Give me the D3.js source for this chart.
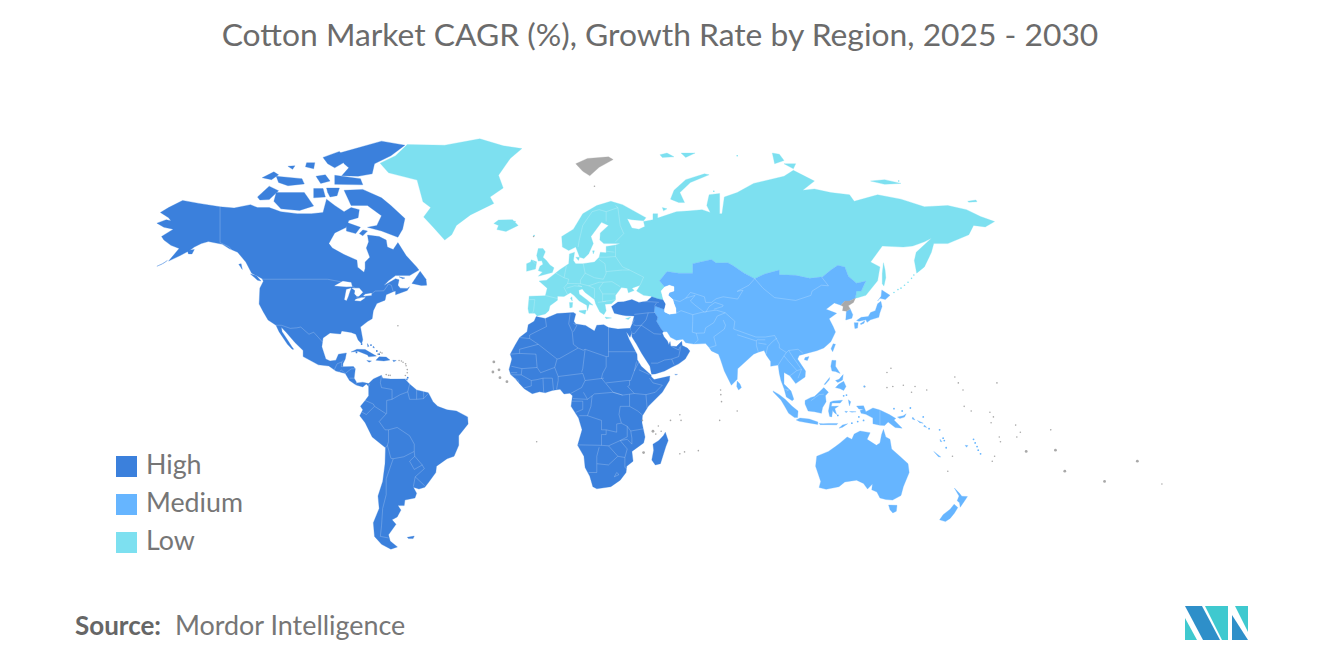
<!DOCTYPE html>
<html>
<head>
<meta charset="utf-8">
<script src="https://d3js.org/d3.v7.min.js"></script>
<style>
    body { margin: 0; background: #fff; }
    svg { display: block; }
    text { font-family: Lato, "Open Sans", sans-serif; }
    .border { fill: none; stroke: #fff; stroke-opacity: 0.3; stroke-width: 0.7px; }
</style>
</head>
<body>
<svg width="1320" height="665"></svg>

<script>
    const legendLabels = ['High', 'Medium', 'Low'];
    const legendColors = ['#3b80dc', '#66b5ff', '#7de0f0'];
    const noDataColor = '#a9a9a9';

    // outlines are [lon, lat]; lon runs past 180 because the map is cut at about -170
    const highLands = [
        // north america
        [[-168,65.6],[-164,66.5],[-162,66.2],[-163,67],[-166.5,68.3],[-163,69.5],[-157,71.2],[-150,70.5],[-141,69.7],[-135,69.4],[-128,70.2],[-125,69.5],[-120,69.5],[-115,68.5],[-108,68],[-102,68],[-97,68.3],[-95.5,71.5],[-92,70],[-88,68.5],[-85,69.5],[-81.5,69],[-82,67],[-86,66.3],[-87,64.5],[-92,63],[-94.5,60],[-93,58.7],[-88,56.8],[-82.5,55.1],[-82.2,52.9],[-79.5,51.3],[-79,52.5],[-79,54.5],[-77,56],[-78.5,58.7],[-77.5,60.5],[-78,62.4],[-73,62],[-70,61],[-69.5,59],[-67,58.3],[-65,60.3],[-61.5,56.5],[-57,53],[-56,52],[-60,50.2],[-66,50.2],[-69,48.5],[-71,46.9],[-66,49.2],[-64.5,48.8],[-65,47],[-64,46],[-61,45.9],[-60,46.5],[-61,45.2],[-66,43.7],[-66,45],[-67,44.8],[-70,43.7],[-70.5,41.8],[-74,40.6],[-75.5,38],[-76,35],[-78,33.9],[-81,31.8],[-80,26.8],[-80.5,25.2],[-82,26.7],[-83,29],[-85,29.7],[-89,30.3],[-89.5,29.1],[-94,29.5],[-97,27.5],[-97.5,24],[-95.8,19],[-94,18.2],[-91.5,18.5],[-90.4,21],[-87,21.5],[-87.5,19],[-88.5,17],[-88.5,15.8],[-84,15.9],[-83.2,15],[-83.7,11],[-82.5,9],[-80,9.3],[-77.5,8.7],[-77.5,7.5],[-78.5,8.5],[-80,7.3],[-82.9,8.1],[-85.7,10],[-87.5,13],[-91.5,14],[-94.5,16.1],[-99,16.6],[-105.5,20],[-105.5,22.5],[-109,25.7],[-112.5,29.5],[-114.8,31.7],[-114.5,30],[-112,26.5],[-110.3,24],[-109.5,23],[-110.2,23],[-112.2,25],[-114,27.5],[-115.8,30],[-117.1,32.5],[-120.5,34.5],[-122.5,37.5],[-124.3,40.4],[-124,46],[-122.5,48.3],[-123,49.2],[-127.5,51],[-130,54.5],[-133.5,57.5],[-137,58.5],[-140,59.8],[-146,60.6],[-149,60],[-152,59],[-154,58],[-158,56.5],[-163,54.8],[-158.5,58.6],[-162,59.5],[-165,61],[-166,62],[-161,64],[-165,64.5]],
        [[-125.5,50.2],[-128,50.7],[-125,48.7],[-123.5,48.4]],
        [[-132,54],[-133,53.8],[-131.5,52.2]],
        [[-163.5,55],[-165,54.2],[-168,53.2],[-166,53.8]],
        [[-155,58],[-152,58.3],[-153,57],[-154.5,57]],
        // arctic islands
        [[-62,66.8],[-68,70],[-72,71.8],[-80,73.7],[-88,73.5],[-85,70],[-78,70],[-72,67.5],[-74,65],[-78,64.5],[-72,63.5],[-65,61.8],[-63,64]],
        [[-117,73],[-105,73],[-101,69.9],[-107,68.8],[-115,69.2],[-118,71]],
        [[-125,72],[-120,74.4],[-116,73.4],[-120,71.4],[-124,71.3]],
        [[-117,76.5],[-106,76],[-105,74.9],[-112,74.5],[-116,75.2]],
        [[-123,76.2],[-118,77.4],[-116,76.8],[-119,75.8]],
        [[-104,79.2],[-100.5,79.2],[-101,78],[-104.5,78.4]],
        [[-112,78.5],[-109,78.6],[-110,77.9]],
        [[-101,73.9],[-97,73.9],[-96,72],[-101,71.8]],
        [[-95.5,74],[-90,74],[-91,72.3],[-94,72],[-95,73]],
        [[-92,76.7],[-81,76],[-80,74.7],[-92,74.8]],
        [[-90,81],[-72,83.1],[-62,82.4],[-68,80.5],[-75,79],[-76,77],[-82,76.5],[-89,76.6],[-86,78.2],[-88,79]],
        [[-97,80.2],[-90,81.3],[-87,79.5],[-92,78.2],[-95,79]],
        [[-100,76.5],[-96,76.8],[-94,75.5],[-98,75]],
        [[-87,65.8],[-81,64.5],[-83,62.8],[-87,63.5]],
        [[-80,63.8],[-78,63.5],[-80,62.2],[-81.5,62.8]],
        [[-59,47.6],[-55.5,51.6],[-53,49],[-52.7,47],[-55,46.9]],
        [[-64.5,49.8],[-62,49.4],[-63,49.2]],
        // caribbean
        [[-85,21.9],[-82.5,23],[-79,22.9],[-74.2,20.2],[-77.5,19.9],[-78,20.7],[-82,22.2]],
        [[-74.4,18.5],[-73,19.9],[-70,19.8],[-68.4,18.6],[-71,18.2]],
        [[-78.3,18.4],[-76.3,18.2],[-77.3,17.7]],
        [[-67.2,18.5],[-65.7,18.4],[-66.8,17.9]],
        [[-78,25.3],[-77.4,24.2],[-77.9,24]],
        [[-75.5,24.3],[-75,23.5],[-75.7,23.7]],
        // south america
        [[-77.5,8.7],[-75.5,10.7],[-72,12.2],[-71.5,11],[-68,10.6],[-62,10.7],[-60,8.5],[-57,6],[-52,4.8],[-50,1],[-48,-1],[-44,-2.5],[-40,-3],[-35.2,-5.5],[-35,-8.5],[-39,-13.5],[-39,-17.5],[-41,-22],[-44,-23],[-48.5,-26],[-48.8,-28.5],[-52,-32.5],[-53.5,-34.2],[-56,-34.9],[-58.4,-34.2],[-57,-36.5],[-57.7,-38.2],[-62,-39],[-62.3,-41],[-65,-41],[-63.7,-42.6],[-65.3,-45],[-67.5,-46],[-65.8,-47.5],[-69,-51],[-68.3,-53],[-65.2,-54.8],[-68,-55.5],[-72,-54],[-75,-51.5],[-75.5,-47],[-73,-42],[-73.5,-37.5],[-71.5,-32],[-70.5,-25],[-70.3,-18.5],[-76,-14],[-79,-8],[-81.3,-5],[-80,-2.5],[-81,-1],[-79,1.5],[-77.5,3.5],[-77.5,7]],
        [[-61,-51.8],[-58,-51.4],[-58.5,-52.2],[-60.5,-52.2]],
        [[-61.7,10.7],[-60.9,10.8],[-61,10.1]],
        // africa
        [[-5.9,35.8],[-2,35.1],[3,36.9],[10,37.3],[11,36.8],[10.2,34],[11,33],[15.2,32.4],[19,30.3],[20,32.5],[23,32.7],[25,31.6],[29,31],[32.3,31.2],[34.3,31.3],[34.9,29.5],[34.2,27.8],[33,29.5],[32.6,29.9],[33.8,27],[35.5,24],[37.2,21],[37.3,18.7],[39,16],[43.2,12.3],[43.3,11.6],[44.5,10.4],[51.2,11.9],[51,10],[48,5],[42,-1],[39.5,-5],[39.3,-8],[40.6,-14],[40,-16.5],[35,-20],[35.5,-24],[32.8,-26],[32.5,-28.5],[30,-31.5],[26,-34],[20,-34.8],[18.3,-34],[17,-30],[15,-26.5],[14.5,-22],[11.8,-17.5],[13.7,-11],[12.2,-6],[9,-1],[9.6,3.5],[8.5,4.6],[6,4.3],[4.3,6.3],[1,5.8],[-2,4.8],[-4.5,5.2],[-7.6,4.4],[-11,6.5],[-13.3,9],[-15,11],[-16.8,12.5],[-17.5,14.7],[-16.3,19],[-17,21],[-15,24.5],[-13,27.7],[-9.8,30],[-9.3,32.7],[-6.8,34]],
        [[49.3,-12],[50.5,-15.5],[49.5,-18],[47.2,-25],[45,-25.5],[43.5,-23.5],[44.3,-19.5],[44,-17],[46.5,-15.5],[48.5,-13.4]],
        // turkey, caucasus, arabia
        [[26.3,39.5],[29,41.1],[31.5,41.2],[35,42],[38,41],[41.5,41.5],[43.5,43],[46,42.3],[48.5,41.9],[49.5,40.4],[48.9,38.4],[44.8,39.7],[44.5,37.5],[46,35.5],[45.5,34],[47.5,31],[48.5,30],[48,29.5],[48.7,28],[50.2,26.3],[50.8,24.8],[51.3,26.1],[51.6,24.3],[54,24.1],[56.3,26.2],[56.5,24.5],[58.7,23.5],[59.8,22.3],[57.8,19],[55,17],[52,15.6],[49,14],[45,12.8],[43.4,12.7],[42.7,16],[39.2,21.3],[37,25],[35,28],[34.9,29.5],[34.3,31.3],[35,32.8],[36,36],[32.5,36.1],[30.5,36.4],[27.5,37]],
        [[53.3,12.6],[54.5,12.6],[53.8,12.3]]
    ];

    const mediumLands = [
        // central, south and east asia
        [[49,46.4],[51,47],[53,46.5],[53,45],[51,44.5],[50.5,43.5],[52.5,42],[53,40.5],[53.8,38.8],[53.9,37],[51,36.7],[49,37.5],[48.9,38.4],[44.8,39.7],[44.5,37.5],[46,35.5],[45.5,34],[47.5,31],[48.5,30],[50,30],[51.5,27.8],[54,26.6],[56.8,27],[58,25.6],[61.5,25.1],[66.5,25.3],[68,23.7],[69,22.3],[72,21],[72.8,19],[74.5,14],[77.5,8],[80,10.5],[80.2,15],[82.3,16.8],[87,21],[89,21.8],[91.5,22.5],[92.5,20.5],[94.3,18],[94.3,16],[97.5,16.5],[98,13],[98.7,10],[100,6.6],[101,3],[103.5,1.4],[104.2,2],[103,5.5],[100,8.5],[100,13.4],[102.5,12],[105,8.7],[109,11.5],[109.2,14],[105.8,19],[106.5,20.5],[110,21.4],[114,22.4],[117,23.5],[120,26],[122,29.9],[121,32],[119.3,35],[122.5,37],[118,38.5],[121.5,40.8],[124.3,40],[126,41.5],[128,41.5],[130.5,42.5],[131,45],[133,45],[135,48.4],[131,47.7],[127.5,50],[126,53],[123,53.5],[120,52],[116.5,49.8],[111,49.3],[105,50.3],[98,50.5],[98,52],[92,50.8],[87.5,49.2],[83,51],[78,53.5],[76,54.3],[71,54.2],[69,55.3],[61,54],[61,51],[55,51],[50,51.5],[46.8,48.5]],
        [[126.7,37.8],[128.3,38.6],[129.4,36.5],[129,35.2],[126.4,34.5],[126.6,37]],
        [[141.4,41.4],[141.9,39.5],[140.9,37],[140.5,35.5],[137,34.6],[135.5,33.6],[135,34.6],[132,34],[131,34.3],[133,35.5],[136,35.8],[137,37.3],[139,38],[140,40.5]],
        [[140,41.5],[141.5,43.2],[141.8,45.4],[145.3,43.5],[143.3,42],[141,42.5]],
        [[132.5,33],[134.5,34.2],[134.2,33.3],[133,32.8]],
        [[130,33.5],[131.7,33.5],[131.4,31.4],[130.3,31.2]],
        [[121,25.2],[122,25],[120.8,22],[120.1,23.2]],
        [[109,19.6],[110.7,20],[110,18.4],[108.7,18.7]],
        [[80,9.8],[81.2,8.5],[81.8,7],[80.6,6],[79.8,7.5]],
        // philippines and indonesia
        [[120.5,18.5],[122.2,18.4],[122,16],[124,13],[122,13.8],[120.5,14],[120,16]],
        [[122,7],[123.5,8.5],[125.5,9.7],[126.5,7.5],[125.5,5.8],[124,6.5]],
        [[122,10],[123.5,10.5],[125.3,12.5],[125,10.2],[123,9.2]],
        [[117.2,8.4],[119.5,11.3],[119.3,10.2],[117.5,8.2]],
        [[109,1.5],[111.5,2.8],[113,3.2],[115.5,5.5],[117,7],[119,5],[117.7,3.5],[118,1],[116.5,-1.5],[116,-4],[113,-3.3],[110.3,-3],[109,0]],
        [[95.3,5.6],[98,4],[100.5,2],[103.5,-1],[106,-3],[105.8,-5.8],[104.5,-5.8],[102,-4],[100.3,-1],[98.7,1.7],[95.5,5]],
        [[105.2,-6.8],[106.8,-6],[110.8,-6.4],[114.5,-7.7],[114.4,-8.7],[110,-8],[106.5,-7.4]],
        [[119.7,0.8],[121,1.3],[125,1.6],[124,0.4],[120.5,0.4],[120.2,-1],[121.5,-1],[123.3,-0.9],[121.7,-2],[122.5,-4.5],[121.3,-3.5],[120.8,-2.7],[120.4,-5.5],[119.5,-5.3],[119,-3]],
        [[115,-8.3],[116.7,-8.4],[119,-8.3],[123,-8.3],[122.5,-8.9],[118.5,-8.8],[115.5,-8.8]],
        [[123.5,-10.3],[125,-9],[127.2,-8.4],[125,-9.9]],
        [[127.5,1.8],[128.5,1],[128,-0.8],[127.7,0.5]],
        [[128,-3.2],[130.8,-3.3],[129,-3.5]],
        [[126,-3.1],[127.2,-3.2],[126.5,-3.7]],
        [[131,-0.9],[134,-0.8],[135,-3.3],[138,-1.7],[141,-2.6],[145,-4.5],[147.8,-6.2],[147,-6.8],[150.5,-10.3],[147.5,-10],[144.5,-7.7],[143,-9.2],[141,-9.1],[138,-8.4],[138,-6],[135,-4.4],[133,-4],[132.5,-2.8],[134,-2.3],[132,-2.1]],
        [[148.5,-5.6],[151,-5],[152.2,-4.2],[151.5,-5.6],[149.5,-6.2]],
        [[155,-5.6],[156,-6.8],[154.8,-6.4]],
        [[157,-7],[159.5,-8.2],[158,-8]],
        [[160,-9],[161,-10],[159.7,-9.6]],
        [[164,-20],[167,-22.3],[166,-22.2]],
        [[166.7,-15],[167.5,-16],[166.8,-15.9]],
        [[177.4,-17.5],[178.6,-17.6],[178,-18.3]],
        // oceania
        [[114,-22],[113.5,-26],[115.7,-32],[115,-34.3],[118,-35],[123.5,-34],[126,-32.2],[131,-31.5],[134,-32.8],[135.7,-34.9],[137.8,-33],[137.5,-35.2],[139.7,-36],[141,-38.2],[143.5,-38.8],[146.4,-39],[150,-37.3],[151,-34],[153.5,-28.5],[153,-25],[149.5,-22],[146,-19],[145.3,-15],[143.5,-14],[142.5,-10.8],[141.7,-13],[141,-16.5],[139.5,-17.5],[135.5,-15],[136.8,-12.2],[132.5,-11.5],[130,-12.8],[129,-15],[127,-14],[124,-16.5],[122,-18],[119,-20]],
        [[144.7,-40.8],[148.3,-40.9],[148,-43],[146.5,-43.6],[145.3,-42.5]],
        [[172.8,-34.5],[175,-36.5],[176,-37.6],[178.4,-37.7],[177,-39.5],[175.3,-41.6],[175,-40],[174,-39.2],[174.8,-37.5]],
        [[172.7,-40.5],[174.3,-41.7],[172.8,-43.7],[171,-45.5],[169,-46.6],[166.5,-46],[168,-44.2],[171,-42.3]]
    ];

    const lowLands = [
        // europe and russia
        [[-9,37],[-9.4,38.7],[-8.9,43.2],[-2,43.4],[-1.2,46],[-4.7,48.4],[-1.5,48.7],[1.5,50.5],[4,52],[8,54],[8.3,57],[10.5,57.5],[10,55],[11,54],[14,54],[19,54.5],[21,56],[21.5,57.5],[24,57.3],[24,59.2],[28,59.6],[30,60],[23,60],[21.3,61],[21.5,63],[25,65],[22,65.8],[17.5,62],[18.5,60],[16.5,57],[14.5,55.6],[12.7,56],[11,59],[8,58],[5.3,59],[5,62],[10,64],[14,68],[20,70],[26,71],[31,70.2],[41,67],[40,66.2],[35,66.5],[33,66.7],[35,64.3],[38,64],[40.5,64.7],[40,66],[44,66.5],[44,68],[46,68],[46,66.9],[54,68.5],[60,68.7],[65,69],[68.5,68.3],[67,70],[68,72.5],[72.5,72.8],[72.5,68],[73.5,68],[74.5,72],[80,73],[87,75],[100,76.5],[104,77.7],[113,75.5],[108,73.5],[113,73.8],[120,73],[128,72.5],[130,71],[140,72.5],[150,71.5],[160,69.7],[170,70],[178,69],[184,67.3],[190,66],[186,64.6],[181,65],[179,62.5],[170,60],[164,60],[163,57.5],[162,56],[160,53],[156.7,51],[155.7,55],[156.5,57.5],[163,61.5],[160,60.5],[155,59.3],[151,59],[142,59.3],[137,54.5],[141,53],[140,48.5],[135,43.5],[131.5,42.7],[130.5,42.5],[131,45],[133,45],[135,48.4],[131,47.7],[127.5,50],[126,53],[123,53.5],[120,52],[116.5,49.8],[111,49.3],[105,50.3],[98,50.5],[98,52],[92,50.8],[87.5,49.2],[83,51],[78,53.5],[76,54.3],[71,54.2],[69,55.3],[61,54],[61,51],[55,51],[50,51.5],[46.8,48.5],[49,46.4],[47.5,45],[48.5,41.9],[46,42.3],[43,43.2],[40,43.5],[37,45],[38.5,47],[35,46],[36,45.2],[33.5,44.4],[33,46],[30.5,46.2],[28,43.5],[28,41.9],[26.3,40.5],[23.5,40.3],[24,38],[23,36.5],[21.3,37.5],[19.5,40.5],[19,42],[15,44.5],[13.8,45.7],[12.3,45.3],[12.5,44],[16,41.8],[18.4,40],[16.8,40.3],[16,38],[15.7,40],[12.5,41.5],[10.2,43.5],[8.7,44.4],[6,43.1],[3.2,43.2],[3.2,41.8],[0,39.8],[-0.5,38],[-2,36.8],[-5.5,36],[-6.5,37]],
        // greenland
        [[-61,82.5],[-45,82.4],[-30,83.5],[-20,82.3],[-12,81.8],[-17,80],[-22,76.7],[-20,74],[-25.6,72],[-24,70.5],[-34,67.7],[-40,65],[-42,62.5],[-45,61],[-50,64.6],[-54,67.2],[-51,69.5],[-54.3,70.9],[-56.8,75.7],[-69,77.2],[-72.6,79.1],[-66,80.5]],
        [[-24,65.5],[-22,66.4],[-16,66.5],[-13.6,65],[-18.8,63.4],[-22.7,63.9],[-22,65]],
        [[-5,58.6],[-3,58.6],[-2,57.6],[-3,56],[-1.5,55],[0,53.6],[1.7,52.7],[1,51.2],[-5,50],[-3.2,51.4],[-5,51.8],[-4.3,53.2],[-3,53.8],[-3.5,54.9],[-5,54.8],[-5.7,56.5]],
        [[-8,55.2],[-5.7,54.6],[-6.2,52.3],[-10,51.6],[-10,54],[-8.3,54.5]],
        [[12.5,38],[15.5,38.2],[15,36.7],[12.5,37.6]],
        [[8.3,41],[9.7,41],[9.5,39.2],[8.5,39]],
        [[8.7,42.5],[9.4,43],[9.5,41.5]],
        [[23.5,35.6],[26.3,35.3],[24,35]],
        [[32.3,35],[34.5,35.6],[33.5,34.7]],
        [[11,56],[12.6,56],[12.2,55]],
        [[18.2,57.9],[19,57.9],[18.5,57]],
        [[51.5,71.5],[55,70.7],[57.5,70.7],[55.5,73],[60,75.2],[68,76.8],[66,77],[58,75.8],[53,73.5]],
        [[48,69.5],[50,69.2],[48.5,68.7]],
        [[47,80.7],[50,81],[53,80.3],[48,80.2]],
        [[56,81],[62,81],[58,80.2]],
        [[95,81],[98,80.8],[100,79.6],[96,79]],
        [[100,79],[105,79],[104,78]],
        [[137,75.5],[143,75.8],[150,75],[143,74.8]],
        [[178.5,71],[182,71.3],[182.5,70.9],[179,70.8]],
        [[142.5,54.3],[143.2,52],[143.5,49.5],[142.7,46.7],[142,47.5],[142,51]]
    ];

    const noDataLands = [
        [[124.3,40],[126,41.5],[128,41.5],[130.5,42.5],[129.7,41],[127.5,39.8],[128.3,38.6],[126.7,37.8],[125,38],[125.3,39.5]],
        [[11,79],[16,80],[25,80.3],[27,79.8],[21,78.3],[17,76.6],[14,77.5]]
    ];

    const lakes = [
        [[-92,46.8],[-88.5,48.3],[-85,47.9],[-84.6,46.6],[-87,46.5]],
        [[-87.8,42],[-87,45.5],[-85,46],[-85.5,45],[-86.3,43],[-87,41.7]],
        [[-84.6,46],[-81.5,46],[-80,44.6],[-81.7,43.2],[-82.5,43.2],[-83.5,44],[-83.3,45.2]],
        [[-83.4,41.7],[-81,41.5],[-79,42.7],[-80.5,42.7],[-83,42.1]],
        [[-79.7,43.3],[-76.3,43.5],[-76.3,44.2],[-79,43.9]],
        [[49,46.4],[51,47],[53,46.5],[53,45],[51,44.5],[50.5,43.5],[52.5,42],[53,40.5],[53.8,38.8],[53.9,37],[51,36.7],[49,37.5],[48.9,38.4],[49.5,40.4],[48.5,41.9],[47.5,45]]
    ];

    const borders = [
        // north and central america
        [[-123,49],[-95,49],[-88.5,48],[-84,46.5],[-82.5,45],[-82.5,42.5],[-79,42.8],[-79,43.3],[-76,44.2],[-74.7,45],[-71,45.1],[-69,47.4],[-67.8,47],[-67,44.8]],
        [[-141,69.7],[-141,60.3],[-137,59],[-133,55]],
        [[-117.1,32.5],[-114.8,32.5],[-111,31.3],[-108.2,31.5],[-106.5,31.8],[-103,29],[-101,29.8],[-97.2,25.9]],
        [[-92.2,14.5],[-91,17],[-89,17.8],[-88.3,18.4]],[[-89,17.8],[-89.2,15.9]],[[-89.2,15.9],[-88.5,15.8]],[[-90,13.8],[-89.2,14.4],[-87.7,13.2]],[[-87.5,13],[-85,14.9],[-83.2,15]],[[-85.7,11],[-83.7,11]],[[-83,8.2],[-82.5,9.5]],
        // south america
        [[-77.5,7.5],[-77,8.6]],[[-72,12],[-72.5,9],[-72,7],[-67.5,6.2],[-67.5,2],[-69.8,1.5],[-69.8,-4.2]],[[-67.5,2],[-64,4],[-60.8,5.2],[-60,8.5]],[[-60.8,5.2],[-60,2],[-57,2],[-54,2.3],[-52,4.5]],[[-57,6],[-57,2]],[[-54,6],[-54,2.3]],
        [[-79,1.5],[-75.5,0],[-75,-1],[-78.5,-4.5],[-80.3,-3.5]],[[-75,-1],[-70,-4.2],[-73,-7.5],[-70.5,-11],[-69,-11],[-69,-16],[-69.5,-17.5],[-70.3,-18.5]],
        [[-69,-11],[-65.3,-10],[-60,-13.5],[-58,-17],[-58,-20],[-57.8,-22],[-54.6,-25.5],[-53.7,-27],[-57.6,-30.2],[-53.5,-33.7]],[[-57.6,-30.2],[-58.4,-34]],
        [[-69.5,-17.5],[-68,-22.8],[-67,-23],[-62.5,-22.2],[-58,-20]],[[-57.8,-22],[-60,-24],[-58,-27.3],[-54.6,-25.5]],[[-67,-23],[-70,-31],[-70,-37],[-71.5,-42],[-72,-48],[-72.5,-51.5],[-69,-52]],
        // africa
        [[-2,35.1],[-1.5,32],[-8.7,28.7],[-8.7,27.3],[-13,27.7]],[[-8.7,27.3],[-5,25],[3,19],[4,19.2],[12,23.5],[14.2,22.6],[15,23]],[[8.6,36.9],[8,33],[9.5,30],[10,25],[12,23.5]],[[10,33.2],[11.5,32.5],[10,30]],[[25,31.6],[25,20],[24,20],[24,15.7],[22.5,13],[22,11]],[[25,22],[37,22]],[[24,20],[15,23],[14,15],[13.5,13.5]],
        [[-17,21],[-13,21.3],[-13,23],[-5,25]],[[-13,21.3],[-6,21],[-5.5,15.5],[-12,15],[-16.5,16]],[[-5.5,15.5],[-4,13.3],[2,15.5],[3,19]],[[-12,15],[-12.3,12.4],[-8,10],[-8,7.7],[-11,6.9]],[[-16.8,13.3],[-14,13.3]],[[-16.7,12.4],[-12.3,12.4]],[[-15,11],[-13.5,10],[-13.3,9]],
        [[-8,10],[-5.5,10.4],[-3,11],[-2.7,5]],[[-3,11],[1,11],[1.5,6]],[[2.8,6.3],[3.5,10],[3.5,11.7],[14,13]],[[2,15.5],[3.5,11.7]],[[14,13],[15,10],[13.5,7],[9,4.6]],[[15,10],[23,11]],[[14.3,5],[16,2],[18,3.5],[19,4.3],[27,5],[31,3.8]],[[9.8,2.3],[16,2]],[[9.3,1.2],[14,1.2],[14,-2.3],[11,-3.6]],[[18,3.5],[17.5,-1],[16,-5],[12.5,-5]],[[16,-5],[22,-7],[22,-11],[24,-11],[24,-13],[22,-13],[22,-17.5],[12,-17.3]],
        [[22,11],[27,5]],[[24,9],[33,10],[34.5,10],[36,14],[37,18]],[[27,5],[31,3.8],[34,4.2],[36,4.5],[41,4],[41.5,-1.7]],[[34,4.2],[34,-1],[37.5,-3],[39.5,-4.7]],[[34,-1],[30,-1],[29.5,-4.5],[30.5,-8.2],[28.5,-8.5],[28.5,-12],[24,-11]],[[34,10],[34,8],[33.2,7.5],[36,4.5]],[[36,14],[38,17.8]],[[38,14.5],[42.5,12.5]],[[42.5,11],[44,9],[48,8],[45,5],[41,4]],
        [[30.5,-8.2],[33,-9.5],[34.5,-11.5],[40.4,-10.5]],[[33,-9.5],[33,-14],[30,-15.5],[25,-17.7],[22,-17.5]],[[34.5,-11.5],[35,-14.5],[35,-17],[33,-15],[30,-15.5]],[[30,-15.5],[33,-19],[32,-22.5],[32,-26.5],[32.8,-27]],[[25,-17.7],[29,-22],[32,-22.5]],[[29,-22],[25,-25.5],[20,-25],[20,-22],[21,-18.3]],[[20,-25],[20,-28.5],[16.5,-28.5]],[[27.5,-30.2],[29.5,-29.3],[28.5,-28.5],[27.5,-30.2]],
        // middle east
        [[36,36.6],[42,37.2],[44.8,37.3]],[[42,37.2],[41,34.5],[39,32.5],[37,32.3],[35.6,32.7]],[[39,32.5],[44.5,29.2],[47.5,29]],[[36,29.2],[39,32.5]],[[34.9,29.5],[36,29.2]],[[35.2,33],[36,34.6]],[[43.2,17.3],[46,17.3],[49,18.6],[52,19],[55,20],[56,24.5]],[[52,19],[53,16.7]],[[51.6,24.3],[55,22.7],[55.5,24]],[[40,41.3],[43.5,41.2],[46.5,41]],[[44.7,39.7],[45.5,40.8]],
        // asia
        [[52.5,42],[55.5,41.3],[58,42.5],[60,44.5],[61,44.3],[66,43],[66.5,41],[69,41],[71,42.3],[74,43],[80.2,42.2]],[[58,42.5],[62,43.5],[60,41.5],[62,40],[66,37.4]],[[53.9,37],[56,38],[61,36.5],[61,34],[60.8,29.8],[62.5,29.4],[63.3,26.7],[61.7,25.2]],[[61,36.5],[65,37.4],[71,38.2],[74.9,37.2],[71.5,36],[70,33.5],[66.5,31.5],[66,29.5],[62.5,29.4]],[[66.5,37.3],[68,39.5],[70.5,41],[74,40],[73.7,39.5],[70,38.5]],[[80.2,42.2],[82.5,45.3],[80,44.9],[85,47],[87.5,49.2]],[[74.9,37.2],[79,34],[78.5,31],[81,30.2],[88,27.9],[92,27.9],[96,28.5],[98,25],[98,23.5],[101,21.7],[102,22.5],[106,23],[108,21.5]],[[74,34.5],[75,32.5],[74.5,31],[70,28],[71,24.5],[68.2,23.7]],[[80,28.8],[88,26.4],[89,27]],[[89,26.8],[92,26.8]],[[88.2,26.4],[88.2,24.5],[89,22]],[[92.5,25],[89,25.5]],[[92.3,21],[93,24],[95,26],[97,27.5]],[[97.5,16.5],[100,20.3],[101,21.7]],[[100,20.3],[102,18],[105.5,14.2],[102.5,12]],[[105.5,14.2],[107.5,14.7],[106,11]],[[102,22.5],[104,19.5],[107.5,14.7]],[[87.5,49.2],[91,46],[96,42.7],[105,41.7],[111.5,43.5],[112,45],[116,47],[119,46.8],[116,49.8]],[[100.2,6.4],[102,6],[101,5.5]],[[111.5,1.4],[115,4],[117,4.2]],[[141,-2.6],[141,-9.1]],
        // europe
        [[-8.9,42],[-6.5,42],[-7,38],[-7.4,37.2]],[[-1.8,43.4],[3.2,42.4]],[[2.5,51],[6,49.5],[8,49],[7.5,47.6],[6,46.2],[7.5,43.8]],[[7.5,47.6],[13,47.5],[13,48.7],[15,51],[14.2,54]],[[6,49.5],[7,53.3]],[[15,51],[19,49.5],[22.8,49],[24,51],[23.5,54],[21,55.3]],[[13,47.5],[16.5,46.8],[21,48],[22.8,48],[26.5,48.2],[30,46.5]],[[22.8,48],[21,46],[22.5,44],[28,44]],[[16.5,46.8],[19,45.9],[19,42.5]],[[22.5,44],[22.5,41.3],[26.3,41.7],[28,42]],[[20.5,41],[24,41.4]],[[13.7,46.5],[12,47]],[[7,46],[10.5,46.8],[13.7,46.5]],
        [[12,59],[12.5,61],[14,65],[18,68.5],[21,69],[24,68.5],[29,69.5],[28,70]],[[24,66],[24,68.5]],[[29,69.5],[30,65],[31.5,62.8],[28,60.5]],[[28,59.5],[28,56.2],[31,53],[34,52],[40,49.7],[38.5,47]],[[28,56.2],[24,56],[21,56]],[[24,57.8],[27.5,57.5]],[[24,51.5],[31,52],[34,52]],[[-7.5,55],[-6.3,54]]
    ];

    // larger grey islands, then the specks
    const grayBlobs = [[-24,17.8],[-21.8,14.5],[-24.4,13.6],[-21.4,11.2],[-18.4,9.5],[44,-11.6],[40,-20.5],[203.5,-20],[216,-19.5],[237,-32],[251,-24],[220,-28]];
    const grayDots = [[-65,32.3],[-7,62],[19,74.4],[-5.7,-16],[45.2,-12.8],[39.5,-7],[55.5,-4.6],[46.3,-9.4],[57.5,-20.2],[55.5,-21],[63.4,-19.7],[47.5,-11.6],[51.5,-7],[56,-7],[73,4],[72.9,6],[73.3,1],[72.5,-7],[-61.7,17],[-61,14.6],[-61,13.3],[-61.5,16.2],[-62.8,17.7],[-63.5,18.2],[-64.5,18.4],[-61.8,12.1],[-69,12.2],[-68.3,12.2],[-70,12.5],[-72.5,21.8],[-71.8,21.5],[-73.5,21],[144,13.4],[145.7,15.2],[134.5,7.4],[144,7],[146.5,7.5],[151,8],[156,7.5],[154.5,5],[161,6],[173,11.5],[174.5,9],[176.5,6],[191,9],[177,-1],[180,-3],[188,-3.5],[189.5,-5.5],[188.5,-8],[199,-9],[201,-12],[199.5,-14],[214,-11],[261.5,-33],[192,-14],[192.5,-16],[190,-22],[189,-24],[170,-28],[172,-22],[80,-3]];
    const mediumDots = [[181,-15],[181.7,-16.5],[182.5,-18],[183,-19.5],[184,-21],[168,-14.5],[168.5,-15.5],[169.3,-18.5],[166.5,-11],[162,-10.5],[159.5,-5.5],[154,-1.7],[147,-2],[150.5,-3],[134,-7],[131.5,-7.5],[129,-8.2],[132,-5.5],[126.7,3.8],[125.5,3.5],[123,-4.9],[134.3,7.5],[147.2,-8]];
    const highDots = [[-76.5,24.7],[-74,22.3],[-73,21],[-60.8,11.2],[-82.7,21.7],[-80.5,25.1]];
    const lowDots = [[147,44.5],[148.7,45.5],[150,46],[151.5,47],[153,48],[154.5,49.3],[155.5,50.4],[70,73.3],[79,72.5],[80,80.5],[-19,80],[-15,66],[-6.8,62.3],[149,75.5],[137,71.5]];

    let svg = d3.select('svg'),
        x = d3.scaleLinear().domain([0, 180]).range([550, 971.2]),
        y = d3.scaleLinear().domain([0, 1]).range([404, 404 - 167.5]);

    // miller cylindrical, straight edges between vertices
    let miller = lat => Math.log(Math.tan(Math.PI / 4 + 0.4 * lat * Math.PI / 180));

    let path = d3.geoPath().projection(d3.geoTransform({
        point: function(lon, lat) { this.stream.point(x(lon), y(miller(lat))); }
    }));

    let toFeature = ring => ({ type: 'Polygon', coordinates: [ring.concat([ring[0]])] });

    function drawLands(rings, color) {
        svg.append('g').selectAll('path')
            .data(rings.map(toFeature))
            .enter().append('path')
            .attr('d', path)
            .attr('fill', color)
            .attr('stroke', color)
            .attr('stroke-width', 0.3);
    }

    function drawDots(points, color, r) {
        svg.append('g').selectAll('circle')
            .data(points)
            .enter().append('circle')
            .attr('cx', d => x(d[0]))
            .attr('cy', d => y(miller(d[1])))
            .attr('r', r)
            .attr('fill', color);
    }

    drawLands(lowLands, legendColors[2]);
    drawLands(mediumLands, legendColors[1]);
    drawLands(highLands, legendColors[0]);
    drawLands(noDataLands, noDataColor);
    drawLands(lakes, '#fff');

    svg.append('g').selectAll('path')
        .data(borders.map(line => ({ type: 'LineString', coordinates: line })))
        .enter().append('path')
        .attr('class', 'border')
        .attr('d', path);

    drawDots(grayBlobs, noDataColor, 1.4);
    drawDots(grayDots, noDataColor, 0.8);
    drawDots(mediumDots, legendColors[1], 0.9);
    drawDots(highDots, legendColors[0], 0.9);
    drawDots(lowDots, legendColors[2], 0.8);

    svg.append('text')
        .attr('x', 660).attr('y', 46)
        .attr('text-anchor', 'middle')
        .attr('font-size', 31.8)
        .attr('fill', '#6b6b6b')
        .text('Cotton Market CAGR (%), Growth Rate by Region, 2025 - 2030');

    let legend = svg.append('g').selectAll('g')
        .data(legendLabels)
        .enter().append('g')
        .attr('transform', (d, i) => 'translate(116,' + (456 + i * 38) + ')');
    legend.append('rect')
        .attr('width', 21).attr('height', 21)
        .attr('fill', (d, i) => legendColors[i]);
    legend.append('text')
        .attr('x', 30).attr('y', 18)
        .attr('font-size', 26.8)
        .attr('fill', '#767676')
        .text(d => d);

    svg.append('text')
        .attr('x', 75).attr('y', 635)
        .attr('font-size', 26)
        .attr('font-weight', 700)
        .attr('fill', '#666')
        .text('Source:');
    svg.append('text')
        .attr('x', 175).attr('y', 635)
        .attr('font-size', 26.9)
        .attr('fill', '#767676')
        .text('Mordor Intelligence');

    // logo
    let logoShapes = [
        ['#2e8fc9', 'M1185,606H1202L1220,640H1203Z'],
        ['#3fc9cf', 'M1185,618V640H1197Z'],
        ['#3fc9cf', 'M1205,606H1228V640H1222Z'],
        ['#2e8fc9', 'M1232,615L1248,640H1232Z'],
        ['#3fc9cf', 'M1235,606H1248V632Z']
    ];
    svg.append('g').selectAll('path')
        .data(logoShapes)
        .enter().append('path')
        .attr('fill', d => d[0])
        .attr('d', d => d[1]);
</script>
</body>
</html>
